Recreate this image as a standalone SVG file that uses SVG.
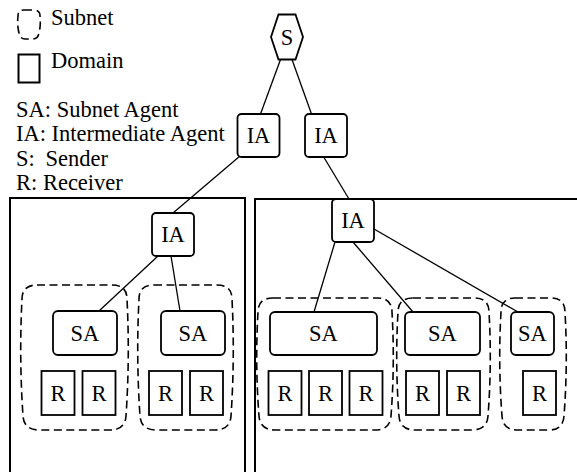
<svg xmlns="http://www.w3.org/2000/svg" width="577" height="472" viewBox="0 0 577 472">
<style>
.t { font-family: "Liberation Serif", serif; font-size: 22.5px; fill: #000; }
.c { text-anchor: middle; }
.box { fill: #fff; stroke: #000; stroke-width: 1.8; }
.dom { fill: none; stroke: #000; stroke-width: 2; }
.sub { fill: none; stroke: #000; stroke-width: 1.6; stroke-dasharray: 8 4.5; }
.edge { fill: none; stroke: #000; stroke-width: 1.3; }
</style>
<rect width="577" height="472" fill="#fff"/>

<g id="legend">
  <path class="sub" stroke-dasharray="7 4" d="M 24,10 H 34 Q 40,10 40,16 Q 41,25 39,33 Q 38,39 33,39 H 25 Q 20,39 19,33 Q 17,25 18,16 Q 18,10 24,10 Z"/>
  <text class="t" x="51" y="25">Subnet</text>
  <rect class="dom" x="18.5" y="54.5" width="21" height="28"/>
  <text class="t" x="51" y="68">Domain</text>
  <text class="t" x="16" y="117">SA: Subnet Agent</text>
  <text class="t" x="16" y="141.3">IA: Intermediate Agent</text>
  <text class="t" x="16" y="165.5">S: <tspan dx="5">Sender</tspan></text>
  <text class="t" x="16" y="189.5">R: Receiver</text>
</g>

<g id="domains">
  <rect id="domain-left" class="dom" x="10" y="198" width="235" height="300"/>
  <rect id="domain-right" class="dom" x="255" y="199" width="340" height="300"/>
</g>

<g id="subnets">
  <path id="subnet-1" class="sub" d="M 37,285 H 112 Q 127,285 127,299 Q 130,357.5 126,416 Q 125,430 110,430 H 39 Q 24,430 23,416 Q 19,357.5 22,299 Q 22,285 37,285 Z"/>
  <path id="subnet-2" class="sub" d="M 154,285 H 217 Q 232,285 232,299 Q 235,357.5 231,416 Q 230,430 215,430 H 156 Q 141,430 140,416 Q 136,357.5 139,299 Q 139,285 154,285 Z"/>
  <path id="subnet-3" class="sub" d="M 273,298 H 377 Q 392,298 392,312 Q 395,364 391,416 Q 390,430 375,430 H 275 Q 260,430 259,416 Q 255,364 258,312 Q 258,298 273,298 Z"/>
  <path id="subnet-4" class="sub" d="M 413,298 H 474 Q 489,298 489,312 Q 492,364 488,416 Q 487,430 472,430 H 415 Q 400,430 399,416 Q 395,364 398,312 Q 398,298 413,298 Z"/>
  <path id="subnet-5" class="sub" d="M 515,298 H 551 Q 565,298 565,312 Q 568,364 564,416 Q 563,430 549,430 H 517 Q 503,430 502,416 Q 498,364 501,312 Q 501,298 515,298 Z"/>
</g>

<g id="connectors">
  <line class="edge" x1="280.5" y1="59.5" x2="260.5" y2="114"/>
  <line class="edge" x1="292" y1="59.5" x2="311.5" y2="114"/>
  <line class="edge" x1="240" y1="156" x2="173" y2="213"/>
  <line class="edge" x1="323.7" y1="157" x2="349" y2="199"/>
  <line class="edge" x1="158" y1="256" x2="99" y2="311"/>
  <line class="edge" x1="171" y1="256" x2="180" y2="311"/>
  <line class="edge" x1="335" y1="242" x2="314" y2="312"/>
  <line class="edge" x1="353" y1="242" x2="413" y2="312"/>
  <line class="edge" x1="374" y1="229" x2="518" y2="312"/>
</g>

<g id="node-S">
  <polygon class="box" points="278.5,14.5 295.5,14.5 303,37 295.5,59.5 278.5,59.5 271,37"/>
  <text class="t c" x="287" y="44.5">S</text>
</g>
<g id="node-IA1"><rect class="box" x="237.5" y="114" width="42" height="43" rx="4"/><text class="t c" x="258.5" y="143">IA</text></g>
<g id="node-IA2"><rect class="box" x="305" y="114" width="42" height="43" rx="4"/><text class="t c" x="326" y="143">IA</text></g>
<g id="node-IA3"><rect class="box" x="152" y="213" width="42" height="43" rx="4"/><text class="t c" x="173" y="242">IA</text></g>
<g id="node-IA4"><rect class="box" x="332" y="199" width="42" height="43" rx="4"/><text class="t c" x="353" y="228">IA</text></g>

<g id="node-SA1"><rect class="box" x="53" y="311" width="64" height="44" rx="5"/><text class="t c" x="85" y="340.5">SA</text></g>
<g id="node-SA2"><rect class="box" x="161" y="311" width="64" height="44" rx="5"/><text class="t c" x="193" y="340.5">SA</text></g>
<g id="node-SA3"><rect class="box" x="270" y="312" width="107" height="43" rx="5"/><text class="t c" x="323.5" y="341">SA</text></g>
<g id="node-SA4"><rect class="box" x="405" y="312" width="75" height="43" rx="5"/><text class="t c" x="442.5" y="341">SA</text></g>
<g id="node-SA5"><rect class="box" x="511" y="312" width="43" height="43" rx="5"/><text class="t c" x="532.5" y="341">SA</text></g>

<g id="node-R1"><rect class="box" x="41.5" y="371" width="33" height="44"/><text class="t c" x="58" y="400.5">R</text></g>
<g id="node-R2"><rect class="box" x="82.5" y="371" width="33" height="44"/><text class="t c" x="99" y="400.5">R</text></g>
<g id="node-R3"><rect class="box" x="149" y="371" width="33" height="44"/><text class="t c" x="165.5" y="400.5">R</text></g>
<g id="node-R4"><rect class="box" x="190" y="371" width="33" height="44"/><text class="t c" x="206.5" y="400.5">R</text></g>
<g id="node-R5"><rect class="box" x="268.5" y="371" width="33" height="44"/><text class="t c" x="285" y="400.5">R</text></g>
<g id="node-R6"><rect class="box" x="309" y="371" width="33" height="44"/><text class="t c" x="325.5" y="400.5">R</text></g>
<g id="node-R7"><rect class="box" x="349.5" y="371" width="33" height="44"/><text class="t c" x="366" y="400.5">R</text></g>
<g id="node-R8"><rect class="box" x="406" y="371" width="33" height="44"/><text class="t c" x="422.5" y="400.5">R</text></g>
<g id="node-R9"><rect class="box" x="447" y="371" width="33" height="44"/><text class="t c" x="463.5" y="400.5">R</text></g>
<g id="node-R10"><rect class="box" x="523" y="371" width="33" height="44"/><text class="t c" x="539.5" y="400.5">R</text></g>
</svg>
